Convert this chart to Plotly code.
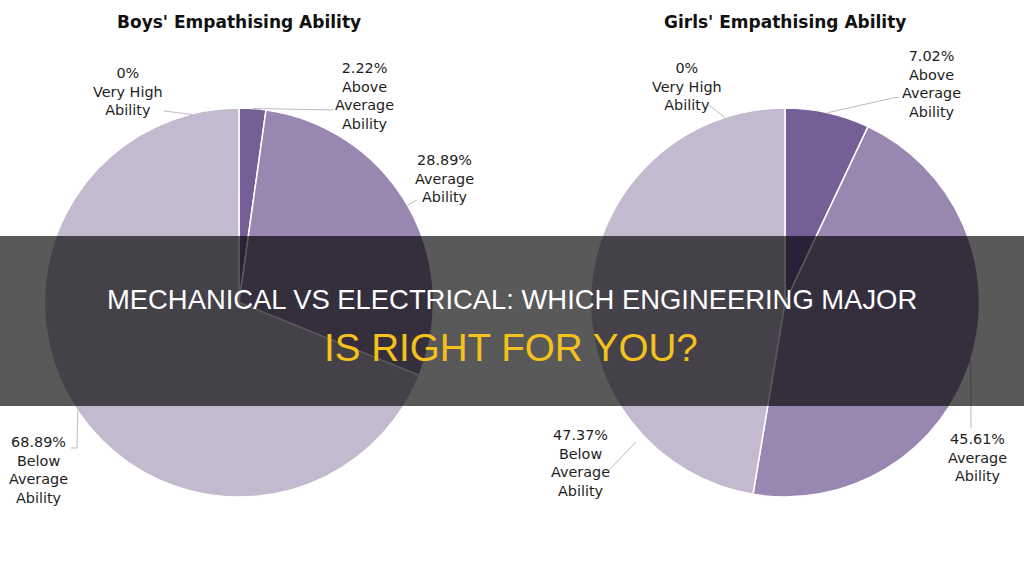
import math
import plotly.graph_objects as go

# ---------------- data ----------------
categories = ["Very High Ability", "Above Average Ability", "Average Ability", "Below Average Ability"]
boys_values = [0.0, 2.22, 28.89, 68.89]
girls_values = [0.0, 7.02, 45.61, 47.37]
chart_titles = ["Boys' Empathising Ability", "Girls' Empathising Ability"]
banner_line1 = "MECHANICAL VS ELECTRICAL: WHICH ENGINEERING MAJOR"
banner_line2 = "IS RIGHT FOR YOU?"

# ---------------- style / layout ----------------
W, H = 1024, 575
colors = ["#5f4b8b", "#765f97", "#9887b0", "#c4bad0"]
pies = [
    dict(cx=239.0, cy=302.5, r=194.5),
    dict(cx=785.0, cy=302.5, r=194.5),
]
# label placement: (center x, middle y) in px; leader path label-side points
label_layout = [
    {  # boys
        "Very High Ability": dict(pos=(128, 91), leader=[(164, 111)], angle=-13.8, rf=0.995),
        "Above Average Ability": dict(pos=(364, 96), leader=[(333, 110)]),
        "Average Ability": dict(pos=(444, 178), leader=[(417, 200)]),
        "Below Average Ability": dict(pos=(38, 470), leader=[(77, 448), (71, 448)]),
    },
    {  # girls
        "Very High Ability": dict(pos=(687, 87), leader=[(709, 105)], angle=-18.0, rf=1.0),
        "Above Average Ability": dict(pos=(931, 84), leader=[(895, 97.5), (899, 97.5)]),
        "Average Ability": dict(pos=(977, 457), leader=[(971, 428)]),
        "Below Average Ability": dict(pos=(580, 463), leader=[(609, 470)], angle=226.9, rf=1.05),
    },
]


def px(x, y):
    return x / W, 1 - y / H


def fmt_pct(v):
    s = f"{v:.2f}".rstrip("0").rstrip(".")
    return s + "%"


fig = go.Figure()
shapes = []
annotations = []

for i, (vals, title) in enumerate(zip([boys_values, girls_values], chart_titles)):
    p = pies[i]
    x0, _ = px(p["cx"] - p["r"], 0)
    x1, _ = px(p["cx"] + p["r"], 0)
    _, y0 = px(0, p["cy"] + p["r"])
    _, y1 = px(0, p["cy"] - p["r"])
    fig.add_trace(go.Pie(
        labels=categories,
        values=vals,
        sort=False,
        direction="clockwise",
        rotation=0,
        textinfo="none",
        hoverinfo="none",
        showlegend=False,
        marker=dict(colors=colors, line=dict(color="white", width=1.5)),
        domain=dict(x=[x0, x1], y=[y0, y1]),
    ))
    # title
    tx, ty = px(p["cx"], 21.5)
    annotations.append(dict(
        x=tx, y=ty, xref="paper", yref="paper", text=f"<b>{title}</b>",
        showarrow=False, xanchor="center", yanchor="middle",
        font=dict(family="DejaVu Sans", size=17, color="#111111"),
    ))
    total = sum(vals)
    cum = 0.0
    for cat, v in zip(categories, vals):
        mid = (cum + v / 2) / total * 360.0
        cum += v
        lay = label_layout[i][cat]
        ang = lay.get("angle", mid)
        rf = lay.get("rf", 1.0)
        ax = p["cx"] + p["r"] * rf * math.sin(math.radians(ang))
        ay = p["cy"] - p["r"] * rf * math.cos(math.radians(ang))
        pts = [(ax, ay)] + lay["leader"]
        path = ""
        for k, (qx, qy) in enumerate(pts):
            a, b = px(qx, qy)
            path += ("M" if k == 0 else " L") + f" {a:.5f},{b:.5f}"
        shapes.append(dict(type="path", path=path, xref="paper", yref="paper",
                           line=dict(color="#bdbdbd", width=1), layer="above"))
        words = cat.split(" ")
        name = "<br>".join([" ".join(words[:-1]), words[-1]]) if cat != "Very High Ability" else "Very High<br>Ability"
        if cat == "Above Average Ability":
            name = "Above<br>Average<br>Ability"
        elif cat == "Below Average Ability":
            name = "Below<br>Average<br>Ability"
        elif cat == "Average Ability":
            name = "Average<br>Ability"
        lx, ly = px(*lay["pos"])
        annotations.append(dict(
            x=lx, y=ly, xref="paper", yref="paper",
            text=f"{fmt_pct(v)}<br>{name}",
            showarrow=False, xanchor="center", yanchor="middle", align="center",
            font=dict(family="DejaVu Sans", size=14.4, color="#1e1e1e"),
        ))

# banner
b0x, b0y = px(0, 406)
b1x, b1y = px(W, 236)
shapes.append(dict(type="rect", xref="paper", yref="paper", x0=0, x1=1, y0=b0y, y1=b1y,
                   fillcolor="rgba(0,0,0,0.65)", line=dict(width=0), layer="above"))
l1x, l1y = px(512, 299)
annotations.append(dict(x=l1x, y=l1y, xref="paper", yref="paper", text=banner_line1,
                        showarrow=False, xanchor="center", yanchor="middle",
                        font=dict(family="Liberation Sans", size=27.4, color="#ffffff")))
l2x, l2y = px(511, 347.5)
annotations.append(dict(x=l2x, y=l2y, xref="paper", yref="paper", text=banner_line2,
                        showarrow=False, xanchor="center", yanchor="middle",
                        font=dict(family="Liberation Sans", size=38.6, color="#f5c21b")))

fig.update_layout(
    width=W, height=H,
    margin=dict(l=0, r=0, t=0, b=0),
    paper_bgcolor="white", plot_bgcolor="white",
    shapes=shapes, annotations=annotations,
)

fig.write_html("out.html", config={"displayModeBar": False})
